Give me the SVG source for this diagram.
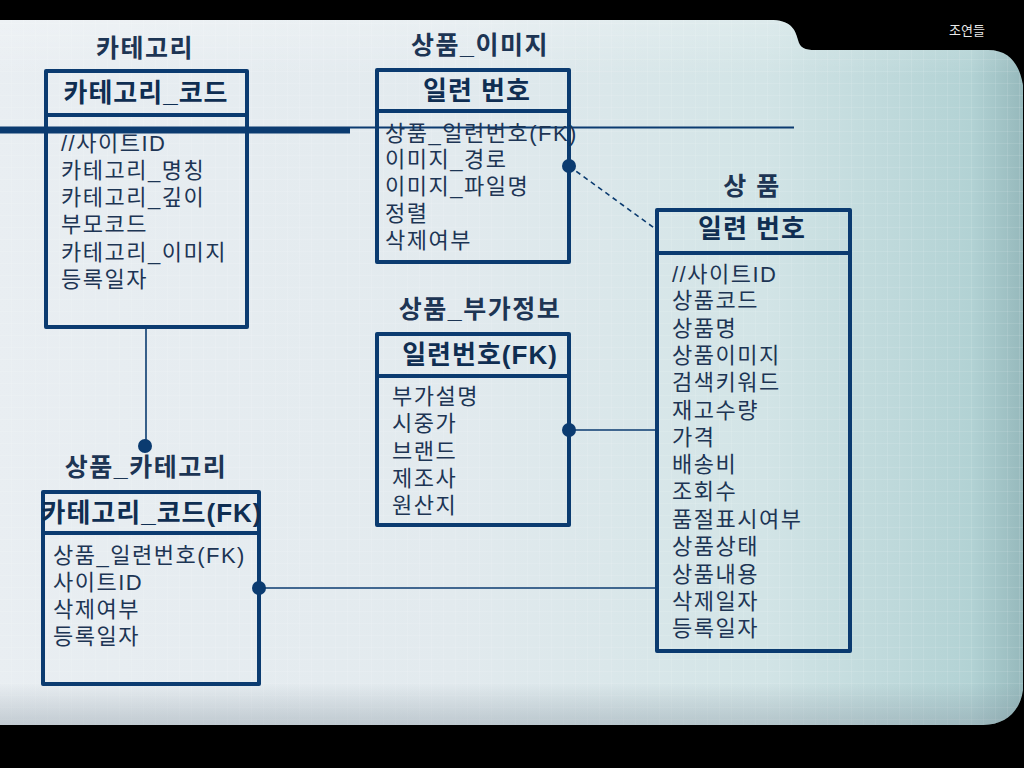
<svg xmlns="http://www.w3.org/2000/svg" width="1024" height="768" viewBox="0 0 1024 768">
<defs>
<linearGradient id="bgH" x1="0" y1="0" x2="1" y2="0">
<stop offset="0" stop-color="#e9eef2"/>
<stop offset="0.45" stop-color="#e2eaee"/>
<stop offset="0.75" stop-color="#d2e4e6"/>
<stop offset="0.95" stop-color="#b2d2d4"/>
<stop offset="1" stop-color="#96b9bc"/>
</linearGradient>
<linearGradient id="bgV" x1="0" y1="0" x2="0" y2="1">
<stop offset="0" stop-color="#ffffff" stop-opacity="0.25"/>
<stop offset="0.08" stop-color="#ffffff" stop-opacity="0"/>
<stop offset="0.94" stop-color="#7a8a96" stop-opacity="0"/>
<stop offset="1" stop-color="#7a8a96" stop-opacity="0.35"/>
</linearGradient>
<pattern id="grid" width="12" height="12" patternUnits="userSpaceOnUse">
<path d="M12 0 V12 M0 12 H12" fill="none" stroke="#ffffff" stroke-opacity="0.2" stroke-width="1"/>
</pattern>
<style>
.box{fill:none;stroke:#0b3b70;stroke-width:4;stroke-linejoin:round}
.title{font-family:"Liberation Sans","Noto Sans CJK KR",sans-serif;font-size:25px;font-weight:bold;fill:#1d3554;text-anchor:middle;letter-spacing:1.5px}
.head{font-family:"Liberation Sans","Noto Sans CJK KR",sans-serif;font-size:26px;font-weight:bold;fill:#0f2e52;text-anchor:middle;letter-spacing:1px}
.attr{font-family:"Liberation Sans","Noto Sans CJK KR",sans-serif;font-size:22px;fill:#1d3554;letter-spacing:1.5px}
.conn{stroke:#0b3b70;stroke-width:1.6;fill:none}
.dot{fill:#0b3b70}
</style>
</defs>
<rect width="1024" height="768" fill="#000"/>
<g id="panel">
<path id="panelShape" d="M-10 20 L770 20 C790 20 795 28 798 40 C800 48 805 50 815 50 L988 50 C1012 50 1020 68 1023 85 L1023 690 C1020 712 1005 725 983 725 L-10 725 Z" fill="url(#bgH)"/>
<path d="M-10 20 L770 20 C790 20 795 28 798 40 C800 48 805 50 815 50 L988 50 C1012 50 1020 68 1023 85 L1023 690 C1020 712 1005 725 983 725 L-10 725 Z" fill="url(#grid)"/>
<path d="M-10 20 L770 20 C790 20 795 28 798 40 C800 48 805 50 815 50 L988 50 C1012 50 1020 68 1023 85 L1023 690 C1020 712 1005 725 983 725 L-10 725 Z" fill="url(#bgV)"/>
</g>
<text x="967" y="35" font-family="Noto Sans CJK KR, sans-serif" font-size="13" fill="#e8e8e8" text-anchor="middle">조연들</text>
<g id="rule">
<line x1="0" y1="130" x2="350" y2="130" stroke="#0b3b70" stroke-width="7"/>
<line x1="350" y1="127.5" x2="794" y2="127.5" stroke="#0b3b70" stroke-width="2"/>
</g>
<g id="connectors">
<line class="conn" x1="146" y1="327" x2="146" y2="446"/>
<circle class="dot" cx="145" cy="446" r="7"/>
<line class="conn" x1="569" y1="166" x2="657" y2="230" stroke-dasharray="5,4"/>
<circle class="dot" cx="569" cy="166" r="7"/>
<line class="conn" x1="569" y1="430" x2="657" y2="430"/>
<circle class="dot" cx="569" cy="430" r="7"/>
<line class="conn" x1="259" y1="588" x2="657" y2="588"/>
<circle class="dot" cx="259" cy="588" r="7"/>
</g>
<g id="node-category">
<text class="title" x="145" y="57">카테고리</text>
<rect class="box" x="46" y="71" width="201" height="256"/>
<line class="box" x1="46" y1="115" x2="247" y2="115"/>
<text class="head" x="146" y="102">카테고리_코드</text>
<text class="attr" x="61" y="151">//사이트ID</text>
<text class="attr" x="61" y="178">카테고리_명칭</text>
<text class="attr" x="61" y="205">카테고리_깊이</text>
<text class="attr" x="61" y="232">부모코드</text>
<text class="attr" x="61" y="260">카테고리_이미지</text>
<text class="attr" x="61" y="287">등록일자</text>
</g>
<g id="node-image">
<text class="title" x="480" y="54">상품_이미지</text>
<rect class="box" x="377" y="70" width="192" height="192"/>
<line class="box" x1="377" y1="111" x2="569" y2="111"/>
<text class="head" x="477" y="100">일련 번호</text>
<text class="attr" x="385" y="141">상품_일련번호(FK)</text>
<text class="attr" x="385" y="167">이미지_경로</text>
<text class="attr" x="385" y="194">이미지_파일명</text>
<text class="attr" x="385" y="221">정렬</text>
<text class="attr" x="385" y="248">삭제여부</text>
</g>
<g id="node-extra">
<text class="title" x="480" y="318">상품_부가정보</text>
<rect class="box" x="377" y="334" width="192" height="191"/>
<line class="box" x1="377" y1="376" x2="569" y2="376"/>
<text class="head" x="480" y="364">일련번호(FK)</text>
<text class="attr" x="392" y="404">부가설명</text>
<text class="attr" x="392" y="431">시중가</text>
<text class="attr" x="392" y="459">브랜드</text>
<text class="attr" x="392" y="486">제조사</text>
<text class="attr" x="392" y="513">원산지</text>
</g>
<g id="node-product">
<text class="title" x="752" y="195">상 품</text>
<rect class="box" x="657" y="210" width="193" height="441"/>
<line class="box" x1="657" y1="253" x2="850" y2="253"/>
<text class="head" x="752" y="238">일련 번호</text>
<text class="attr" x="672" y="282">//사이트ID</text>
<text class="attr" x="672" y="308">상품코드</text>
<text class="attr" x="672" y="336">상품명</text>
<text class="attr" x="672" y="363">상품이미지</text>
<text class="attr" x="672" y="390">검색키워드</text>
<text class="attr" x="672" y="418">재고수량</text>
<text class="attr" x="672" y="445">가격</text>
<text class="attr" x="672" y="472">배송비</text>
<text class="attr" x="672" y="499">조회수</text>
<text class="attr" x="672" y="527">품절표시여부</text>
<text class="attr" x="672" y="554">상품상태</text>
<text class="attr" x="672" y="582">상품내용</text>
<text class="attr" x="672" y="609">삭제일자</text>
<text class="attr" x="672" y="636">등록일자</text>
</g>
<g id="node-product-category">
<text class="title" x="146" y="476">상품_카테고리</text>
<rect class="box" x="43" y="492" width="216" height="192"/>
<line class="box" x1="43" y1="533" x2="259" y2="533"/>
<text class="head" x="152" y="522">카테고리_코드(FK)</text>
<text class="attr" x="53" y="563">상품_일련번호(FK)</text>
<text class="attr" x="53" y="590">사이트ID</text>
<text class="attr" x="53" y="617">삭제여부</text>
<text class="attr" x="53" y="644">등록일자</text>
</g>
</svg>
